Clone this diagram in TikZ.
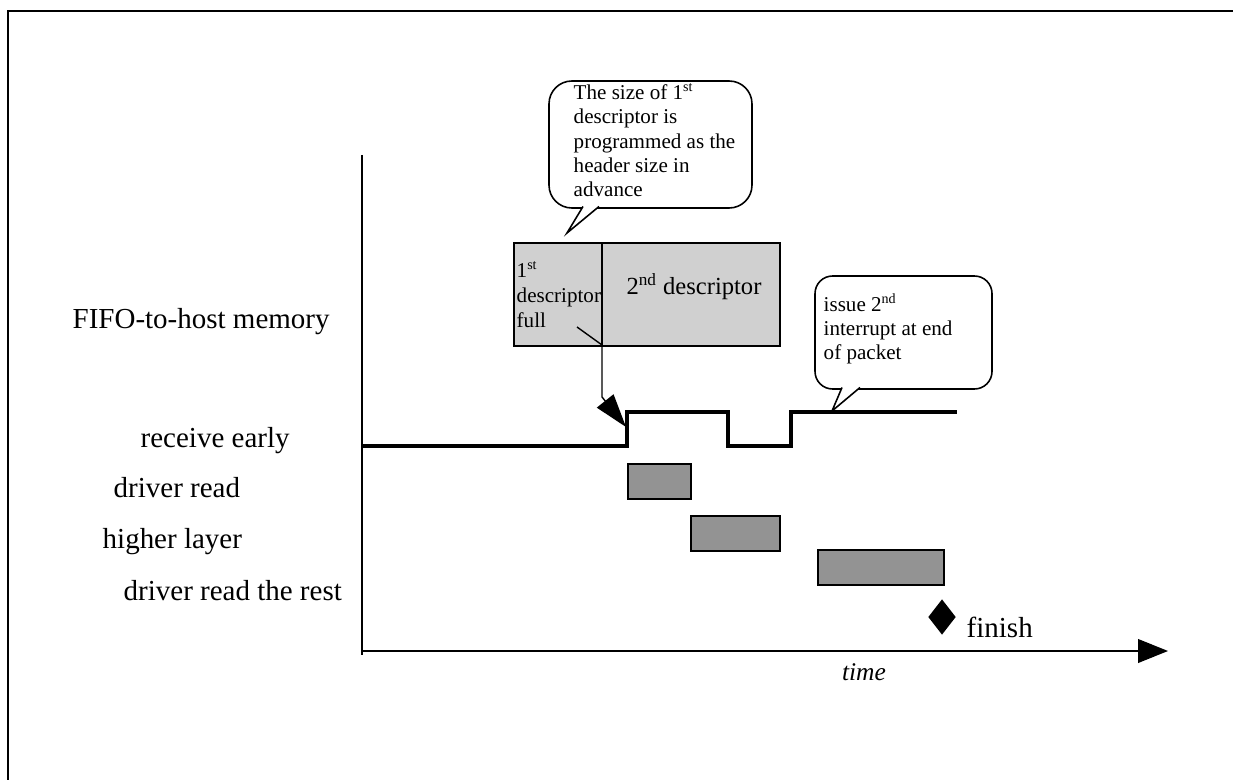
\documentclass[tikz,border=0pt]{standalone}
\usepackage{fontspec}
\setmainfont{Liberation Serif}
\usepackage{tikz}
\usetikzlibrary{arrows.meta,positioning,shapes.geometric}
\definecolor{lightbox}{RGB}{208,208,208}
\definecolor{darkbox}{RGB}{147,147,147}
\tikzset{every picture/.style={line width=0.8pt}}
\tikzstyle{lbl}=[anchor=base west,inner sep=0,font=\fontsize{16.5}{19}\selectfont]
\tikzstyle{note}=[anchor=north west,inner sep=0,align=left,font=\fontsize{12}{13.9}\selectfont]
\tikzstyle{busy}=[draw,fill=darkbox,line width=0.8pt]
\tikzstyle{bubble}=[draw,fill=white,line width=0.9pt]
\tikzstyle{sig}=[line width=2.2pt,line join=miter]

\begin{document}
\begin{tikzpicture}[x=0.02cm,y=-0.02cm]
\useasboundingbox (0,0) rectangle (1233,780);
\draw[line width=1.2pt] (8,780) -- (8,11) -- (1233,11);

% axes
\coordinate (O) at (362,651);
\coordinate (T) at (362,155);
\coordinate (E) at (1168,651);
\draw (T) -- (362,655);
\draw[-{Triangle[length=17pt,width=13.5pt]}] (O) -- (E);
\node[anchor=base,inner sep=0,font=\fontsize{14.5}{17}\selectfont\itshape] (time) at (864,680) {time};

% row labels
\node[lbl] (fifo) at (72,329) {FIFO-to-host memory};
\node[lbl] (early) at (140,447) {receive early};
\node[lbl] (drv) at (113,497) {driver read};
\node[lbl] (high) at (102,548) {higher layer};
\node[lbl] (rest) at (123,600) {driver read the rest};

% FIFO descriptors
\draw[fill=lightbox] (514,243) rectangle (780,346);
\draw (602,243) -- (602,346);
\node[note,font=\fontsize{12}{14.3}\selectfont] (full) at (516,261) {1\textsuperscript{st}\\descriptor\\full};
\node[anchor=base,inner sep=0,font=\fontsize{14}{16}\selectfont] (second) at (694,295) {2\textsuperscript{nd} descriptor};

% receive early signal
\draw[sig] (362,446) -- (627,446) -- (627,412) -- (728,412) -- (728,446)
  -- (791,446) -- (791,412) -- (957,412);
\coordinate (src) at (577,327);
\coordinate (rise) at (626,427);
\draw[-{Triangle[length=19pt,width=12pt]}] (src) -- (602,345) -- (602,397) -- (rise);

% activity boxes
\draw[busy] (628,464) rectangle (691,499);
\draw[busy] (691,516) rectangle (780,551);
\draw[busy] (818,550) rectangle (944,585);

% finish
\node[diamond,fill,inner sep=0,minimum width=15.9pt,minimum height=20.4pt] (fin) at (942,617) {};
\node[lbl] (finish) at (966,637) {finish};

% callouts
\draw[bubble,rounded corners=13pt] (549,81) rectangle (752,208);
\draw[bubble] (583,206.5) -- (567,233) -- (599,206.5);
\node[note] (sizenote) at (573,83) {The size of 1\textsuperscript{st}\\descriptor is\\programmed as the\\header size in\\advance};

\draw[bubble,rounded corners=10pt] (815,276) rectangle (992,389);
\draw[bubble] (842,387.5) -- (832,411) -- (860,387.5);
\node[note] (intnote) at (823,293) {issue 2\textsuperscript{nd}\\interrupt at end\\of packet};
\end{tikzpicture}
\end{document}
